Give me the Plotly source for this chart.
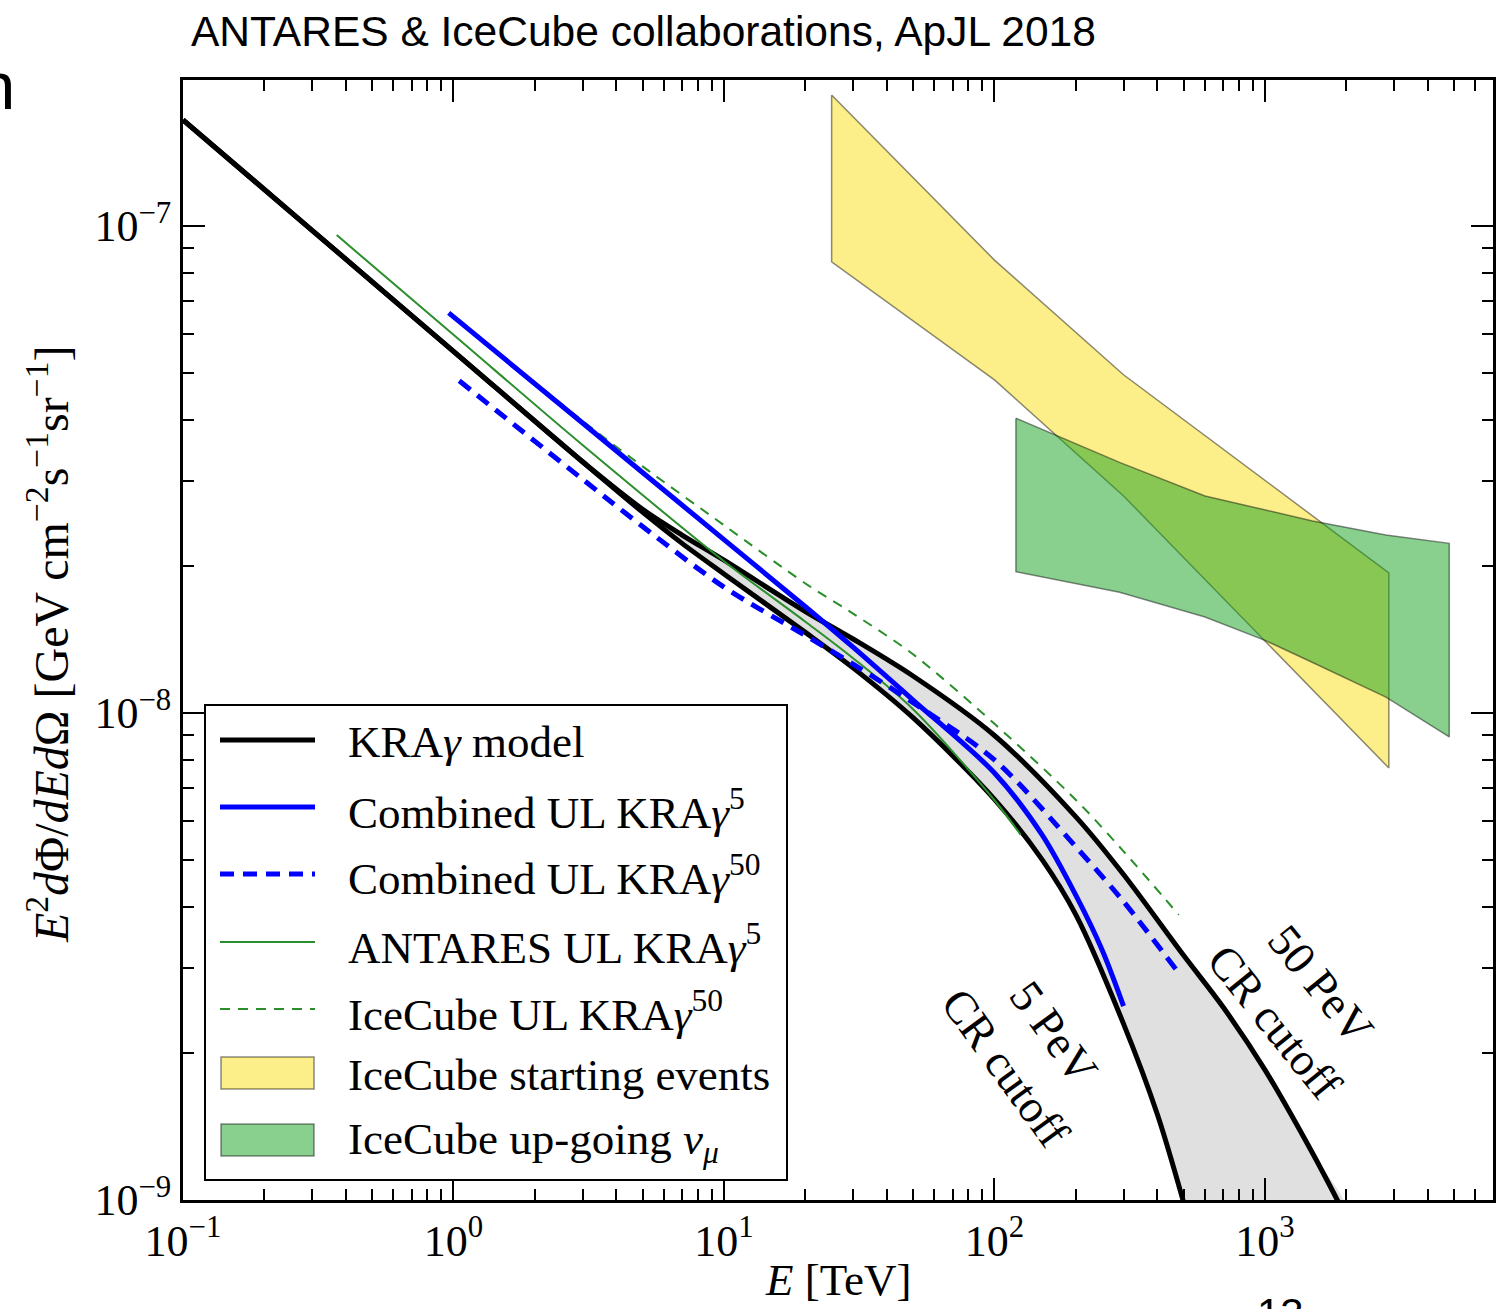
import plotly.graph_objects as go

# Energies in TeV, fluxes E^2 dPhi/dE dOmega in GeV cm^-2 s^-1 sr^-1

# KRAgamma model, 50 PeV cosmic-ray cutoff
kra50_E = [0.1, 0.3, 1, 3, 5, 7, 10, 20, 30, 50, 100, 200, 300, 500, 700, 1000, 1500, 2000]
kra50_F = [1.651e-7, 9.80e-8, 5.53e-8, 3.28e-8, 2.62e-8, 2.32e-8, 2.06e-8, 1.616e-8, 1.419e-8,
           1.191e-8, 8.99e-9, 6.12e-9, 4.66e-9, 3.18e-9, 2.49e-9, 1.85e-9, 1.247e-9, 9.2e-10]

# KRAgamma model, 5 PeV cosmic-ray cutoff
kra5_E = [0.1, 0.3, 1, 3, 5, 7, 10, 20, 30, 50, 100, 150, 200, 300, 400, 500, 600]
kra5_F = [1.651e-7, 9.80e-8, 5.53e-8, 3.28e-8, 2.585e-8, 2.23e-8, 1.93e-8, 1.464e-8, 1.238e-8,
          9.78e-9, 6.65e-9, 5.00e-9, 3.85e-9, 2.30e-9, 1.50e-9, 9.9e-10, 6.8e-10]

# Combined ANTARES + IceCube upper limits
comb5_E = [0.96, 3, 10, 20, 30, 50, 100, 150, 200, 250, 300]
comb5_F = [6.63e-8, 3.94e-8, 2.27e-8, 1.653e-8, 1.365e-8, 1.063e-8, 7.53e-9, 5.62e-9,
           4.22e-9, 3.26e-9, 2.50e-9]

comb50_E = [1.05, 3, 5, 10, 20, 30, 50, 100, 200, 300, 470]
comb50_F = [4.81e-8, 3.02e-8, 2.416e-8, 1.814e-8, 1.443e-8, 1.26e-8, 1.05e-8, 8.01e-9,
            5.31e-9, 4.10e-9, 2.97e-9]

# ANTARES alone
ant5_E = [0.37, 1, 3, 10, 20, 30, 50, 100, 125]
ant5_F = [9.58e-8, 5.98e-8, 3.55e-8, 2.05e-8, 1.54e-8, 1.296e-8, 1.018e-8, 6.62e-9, 5.62e-9]

# IceCube alone
ic50_E = [1.05, 3, 5, 10, 20, 30, 50, 100, 200, 300, 480]
ic50_F = [6.41e-8, 3.98e-8, 3.21e-8, 2.43e-8, 1.845e-8, 1.60e-8, 1.32e-8, 9.50e-9,
          6.63e-9, 5.20e-9, 3.85e-9]

# IceCube astrophysical flux bands
hese_E = [25, 100, 300, 2870]
hese_hi = [1.858e-7, 8.51e-8, 4.95e-8, 1.94e-8]
hese_lo = [8.44e-8, 4.83e-8, 2.79e-8, 7.71e-9]

numu_E = [120, 290, 600, 1000, 1500, 2800, 4800]
numu_hi = [4.03e-8, 3.27e-8, 2.79e-8, 2.61e-8, 2.48e-8, 2.32e-8, 2.23e-8]
numu_lo = [1.95e-8, 1.77e-8, 1.575e-8, 1.41e-8, 1.27e-8, 1.078e-8, 8.93e-9]

# Axis ticks
x_ticks = [0.1, 1, 10, 100, 1000]
x_ticktext = ["10<sup>−1</sup>", "10<sup>0</sup>", "10<sup>1</sup>", "10<sup>2</sup>", "10<sup>3</sup>"]
y_ticks = [1e-9, 1e-8, 1e-7]
y_ticktext = ["10<sup>−9</sup>", "10<sup>−8</sup>", "10<sup>−7</sup>"]

legend_labels = [
    "KRA<i>γ</i> model",
    "Combined UL KRA<i>γ</i><sup>5</sup>",
    "Combined UL KRA<i>γ</i><sup>50</sup>",
    "ANTARES UL KRA<i>γ</i><sup>5</sup>",
    "IceCube UL KRA<i>γ</i><sup>50</sup>",
    "IceCube starting events",
    "IceCube up-going <i>ν<sub>μ</sub></i>",
]

# ---- page geometry ----
W, H = 1496, 1309
L, R, T, B = 183, 1493, 80, 1200
SERIF = "Liberation Serif"
SANS = "Liberation Sans"

BLUE = "#0000ff"
GREEN = "#2a8f2a"
HESE_FILL = "rgba(250,222,20,0.5)"
NUMU_FILL = "rgba(20,160,30,0.5)"
EDGE = "rgba(0,0,0,0.45)"
SMOOTH = dict(shape="spline", smoothing=0.9)


def px(x):
    return (x - L) / (R - L)


def py(y):
    return (B - y) / (B - T)


fig = go.Figure()

# band between the two cutoff scenarios
fig.add_trace(go.Scatter(
    x=kra50_E + kra5_E[::-1], y=kra50_F + kra5_F[::-1],
    fill="toself", fillcolor="#e0e0e0", line=dict(width=0, **SMOOTH),
    mode="lines", hoverinfo="skip", showlegend=False))

# IceCube flux bands
fig.add_trace(go.Scatter(
    x=hese_E + hese_E[::-1] + [hese_E[0]], y=hese_hi + hese_lo[::-1] + [hese_hi[0]],
    fill="toself", fillcolor=HESE_FILL, line=dict(color=EDGE, width=1.5),
    mode="lines", name="IceCube starting events", showlegend=False))
fig.add_trace(go.Scatter(
    x=numu_E + numu_E[::-1] + [numu_E[0]], y=numu_hi + numu_lo[::-1] + [numu_hi[0]],
    fill="toself", fillcolor=NUMU_FILL, line=dict(color=EDGE, width=1.5),
    mode="lines", name="IceCube up-going numu", showlegend=False))

# model curves
fig.add_trace(go.Scatter(x=kra50_E, y=kra50_F, mode="lines",
                         line=dict(color="black", width=5, **SMOOTH),
                         name="KRAγ 50 PeV", showlegend=False))
fig.add_trace(go.Scatter(x=kra5_E, y=kra5_F, mode="lines",
                         line=dict(color="black", width=5, **SMOOTH),
                         name="KRAγ 5 PeV", showlegend=False))

# upper limits
fig.add_trace(go.Scatter(x=ic50_E, y=ic50_F, mode="lines",
                         line=dict(color=GREEN, width=2, dash="10px,8px", **SMOOTH),
                         name="IceCube UL KRAγ50", showlegend=False))
fig.add_trace(go.Scatter(x=ant5_E, y=ant5_F, mode="lines",
                         line=dict(color=GREEN, width=2, **SMOOTH),
                         name="ANTARES UL KRAγ5", showlegend=False))
fig.add_trace(go.Scatter(x=comb5_E, y=comb5_F, mode="lines",
                         line=dict(color=BLUE, width=5, **SMOOTH),
                         name="Combined UL KRAγ5", showlegend=False))
fig.add_trace(go.Scatter(x=comb50_E, y=comb50_F, mode="lines",
                         line=dict(color=BLUE, width=5, dash="14px,9px", **SMOOTH),
                         name="Combined UL KRAγ50", showlegend=False))


def minor_vals(lo_exp, hi_exp):
    vals = []
    for e in range(lo_exp, hi_exp + 1):
        for k in range(2, 10):
            vals.append(k * 10.0 ** e)
    return vals


axis_common = dict(
    type="log", showgrid=False, zeroline=False,
    showline=True, linecolor="black", linewidth=3, mirror="ticks",
    ticks="inside", ticklen=22, tickwidth=2, tickcolor="black",
    tickfont=dict(family=SERIF, size=44, color="black"),
    tickmode="array",
)

fig.update_xaxes(
    **axis_common, range=[-1, 3.843],
    tickvals=x_ticks, ticktext=x_ticktext,
    minor=dict(tickmode="array", tickvals=minor_vals(-1, 3), ticks="inside",
               ticklen=11, tickwidth=2, tickcolor="black", showgrid=False),
)
fig.update_yaxes(
    **axis_common, range=[-9, -6.7002],
    tickvals=y_ticks, ticktext=y_ticktext,
    minor=dict(tickmode="array", tickvals=minor_vals(-9, -7), ticks="inside",
               ticklen=11, tickwidth=2, tickcolor="black", showgrid=False),
)

shapes = []
annotations = []

# legend frame
shapes.append(dict(type="rect", xref="paper", yref="paper",
                   x0=px(205), x1=px(787), y0=py(1180), y1=py(705),
                   line=dict(color="black", width=2), fillcolor="white", layer="above"))

row_y = [740, 807, 874, 942, 1009, 1073, 1140]
line_styles = [
    dict(color="black", width=5),
    dict(color=BLUE, width=5),
    dict(color=BLUE, width=5, dash="14px,9px"),
    dict(color=GREEN, width=2),
    dict(color=GREEN, width=2, dash="10px,8px"),
]
for yy, st in zip(row_y[:5], line_styles):
    shapes.append(dict(type="line", xref="paper", yref="paper",
                       x0=px(220), x1=px(315), y0=py(yy), y1=py(yy),
                       line=st, layer="above"))
for yy, fc in zip(row_y[5:], [HESE_FILL, NUMU_FILL]):
    shapes.append(dict(type="rect", xref="paper", yref="paper",
                       x0=px(221), x1=px(314), y0=py(yy + 16), y1=py(yy - 16),
                       line=dict(color=EDGE, width=1.5), fillcolor=fc, layer="above"))

for yy, txt in zip(row_y, legend_labels):
    annotations.append(dict(xref="paper", yref="paper", x=px(346), y=py(yy + 2),
                            xanchor="left", yanchor="middle", showarrow=False,
                            text=txt, font=dict(family=SERIF, size=45, color="black")))

# axis titles
annotations.append(dict(xref="paper", yref="paper", x=px(838), y=py(1280),
                        xanchor="center", yanchor="middle", showarrow=False,
                        text="<i>E</i> [TeV]", font=dict(family=SERIF, size=45, color="black")))
annotations.append(dict(xref="paper", yref="paper", x=px(48), y=py(645),
                        xanchor="center", yanchor="middle", showarrow=False, textangle=-90,
                        text="<i>E</i><sup>2</sup><i>d</i>Φ/<i>dEd</i>Ω [GeV cm<sup>−2</sup>s<sup>−1</sup>sr<sup>−1</sup>]",
                        font=dict(family=SERIF, size=48, color="black")))

# cutoff labels
annotations.append(dict(xref="paper", yref="paper", x=px(1030), y=py(1050),
                        xanchor="center", yanchor="middle", showarrow=False, textangle=54,
                        text="5 PeV<br>CR cutoff", font=dict(family=SERIF, size=46, color="black")))
annotations.append(dict(xref="paper", yref="paper", x=px(1298), y=py(1003),
                        xanchor="center", yanchor="middle", showarrow=False, textangle=51,
                        text="50 PeV<br>CR cutoff", font=dict(family=SERIF, size=46, color="black")))

# header text
annotations.append(dict(xref="paper", yref="paper", x=px(189), y=py(32),
                        xanchor="left", yanchor="middle", showarrow=False,
                        text="ANTARES & IceCube collaborations, ApJL 2018",
                        font=dict(family=SANS, size=42.5, color="black")))
annotations.append(dict(xref="paper", yref="paper", x=px(17), y=py(86),
                        xanchor="right", yanchor="middle", showarrow=False,
                        text="n", font=dict(family=SANS, size=67, color="black")))
annotations.append(dict(xref="paper", yref="paper", x=px(1280), y=py(1288),
                        xanchor="center", yanchor="top", showarrow=False,
                        text="13", font=dict(family=SANS, size=42, color="black")))

fig.update_layout(
    width=W, height=H,
    margin=dict(l=L, r=W - R, t=T, b=H - B, autoexpand=False),
    paper_bgcolor="white", plot_bgcolor="white",
    showlegend=False,
    shapes=shapes, annotations=annotations,
)

fig.write_html("out.html")
